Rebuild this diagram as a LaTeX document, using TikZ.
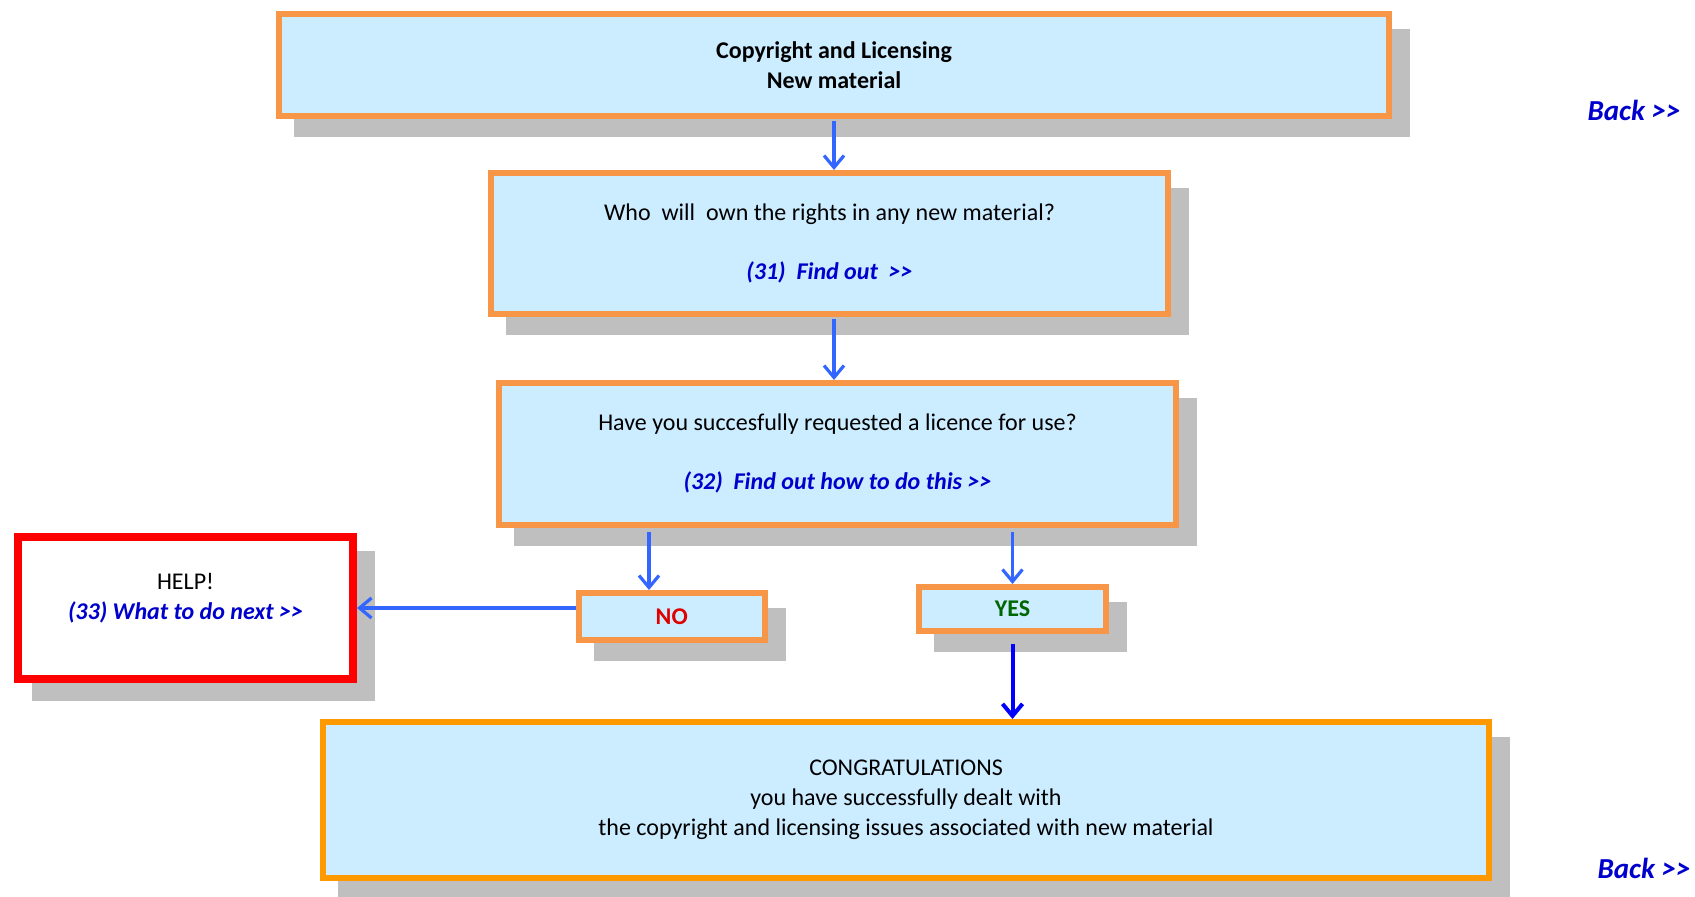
\documentclass[tikz,border=0pt]{standalone}
\usepackage{fontspec}
\setmainfont{Carlito}
\usetikzlibrary{arrows.meta,backgrounds}
\definecolor{boxfill}{HTML}{CCECFF}
\definecolor{boxorange}{HTML}{F79646}
\definecolor{finalorange}{HTML}{FF9900}
\definecolor{shadowgray}{HTML}{BFBFBF}
\definecolor{linkblue}{HTML}{0000CC}
\definecolor{arrowblue}{HTML}{3366FF}
\definecolor{noRed}{HTML}{E00000}
\definecolor{yesGreen}{HTML}{006600}
\newcommand\lnk{\color{linkblue}\bfseries\itshape}
\newcommand\gtgt{>\kern0pt>}
\begin{document}
\begin{tikzpicture}[x=0.5pt,y=-0.5pt,
  every node/.style={font=\fontsize{12}{15}\selectfont, inner sep=0pt},
  flowbox/.style={draw=boxorange, fill=boxfill, line width=3pt, align=center},
  helpbox/.style={draw=red, fill=white, line width=4pt},
  finalbox/.style={draw=finalorange, fill=boxfill, line width=3pt, align=center},
  backlink/.style={font=\fontsize{14.5}{17}\selectfont\bfseries\itshape, text=linkblue},
  arr/.style={draw=arrowblue, line width=1.6pt, -{Straight Barb[length=6pt,width=10pt]}},
  darkarr/.style={draw=blue, line width=2pt, -{Straight Barb[length=6pt,width=10pt]}}]
\useasboundingbox (0,0) rectangle (1695,897);

\node[flowbox, minimum width=555pt, minimum height=51pt] (top) at (834,65)
  {\bfseries Copyright and Licensing\\\bfseries New material};
\node[flowbox, minimum width=338.5pt, minimum height=70.5pt] (box2) at (829.5,243.5)
  {Who~ will~ own the rights in any new material?\\[14.5pt]{\lnk (31)~ Find out~ \gtgt}};
\node[flowbox, minimum width=338.5pt, minimum height=70.75pt] (box3) at (837.5,453.75)
  {Have you succesfully requested a licence for use?\\[14.5pt]{\lnk (32)~ Find out how to do this \gtgt}};
\node[flowbox, minimum width=92.75pt, minimum height=23.5pt, text=noRed, font=\fontsize{12}{15}\selectfont\bfseries] (no) at (671.75,616.5) {NO};
\node[flowbox, minimum width=93.5pt, minimum height=21.75pt, text=yesGreen, font=\fontsize{12}{15}\selectfont\bfseries] (yes) at (1012.5,608.75) {YES};
\node[helpbox, minimum width=167.5pt, minimum height=71pt] (help) at (185.5,608) {};
\node[align=center] (helptext) at ([yshift=5pt]help.center) {HELP!\\{\lnk (33) What to do next \gtgt}};
\node[finalbox, minimum width=583pt, minimum height=78pt] (final) at (906,800)
  {CONGRATULATIONS\\you have successfully dealt with\\the copyright and licensing issues associated with new material};

\node[backlink] (backtop) at (1634,110) {Back \gtgt};
\node[backlink] (backbottom) at (1644,868) {Back \gtgt};

\begin{scope}[on background layer]
\foreach \n in {top,box2,box3,no,yes,help,final}
  \fill[shadowgray] ([shift={(9pt,-9pt)}]\n.south west) rectangle ([shift={(9pt,-9pt)}]\n.north east);
\end{scope}

\coordinate (noarrow) at (649,532);
\draw[arr, shorten <=1pt] (top.south) -- (top.south |- box2.north);
\draw[arr, shorten <=1pt] (top.south |- box2.south) -- (top.south |- box3.north);
\draw[arr] (noarrow) -- (noarrow |- no.north);
\draw[arr, shorten <=2pt] (yes.north |- box3.south) -- (yes.north);
\draw[arr] (no.west |- help.east) -- (help.east);
\draw[darkarr, shorten <=5pt] (yes.south) -- (yes.south |- final.north);
\end{tikzpicture}
\end{document}
